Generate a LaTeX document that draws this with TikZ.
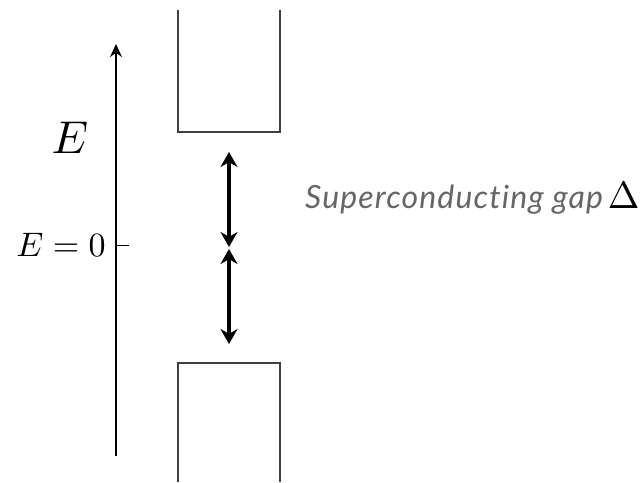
\documentclass[tikz,border=0pt]{standalone}
\usepackage{graphicx}
\usepackage{fontspec}
\newfontfamily\labelfont[Ligatures=NoCommon,LetterSpace=3.5]{Lato}
\usetikzlibrary{arrows.meta}
\begin{document}
\begin{tikzpicture}[x=1pt,y=-1pt,
  bandedge/.style={draw=black!75,line width=1.3pt},
  axisline/.style={line width=2.5pt,-{Stealth[length=13pt,width=12pt]}},
  gaparrow/.style={line width=3.6pt,{Stealth[length=15pt,width=17pt]}-{Stealth[length=15pt,width=17pt]}}]
\useasboundingbox (0,0) rectangle (644,482);
% energy axis
\coordinate (axbot) at (116,456);
\coordinate (axtop) at (116,44);
\draw[axisline] (axbot) -- (axtop);
\coordinate (tickL) at (116,245);
\coordinate (tickR) at (129,245);
\draw[line width=1pt] (tickL) -- (tickR);
\node[anchor=center,inner sep=0pt] (Elabel) at (70,138) {\scalebox{4.6}{$E$}};
\node[anchor=east,inner sep=0pt] (Ezero) at (106,245) {\scalebox{3.4}{$E=0$}};
% conduction band (open at the top)
\draw[bandedge] (178,10) -- (178,132) -- (280,132) -- (280,10);
% valence band (open at the bottom)
\draw[bandedge] (178,482) -- (178,363) -- (280,363) -- (280,482);
% gap arrows
\coordinate (g1) at (229,152);
\coordinate (g2) at (229,247);
\coordinate (g3) at (229,249);
\coordinate (g4) at (229,344);
\draw[gaparrow] (g1) -- (g2);
\draw[gaparrow] (g3) -- (g4);
\node[anchor=base west,text=black!60,inner sep=0pt] (gaplabel) at (305,208)
  {\fontsize{32}{40}\selectfont\labelfont\itshape Superconducting gap\hspace{5pt}\textcolor{black}{\scalebox{3.8}{\normalsize$\Delta$}}};
\end{tikzpicture}
\end{document}
